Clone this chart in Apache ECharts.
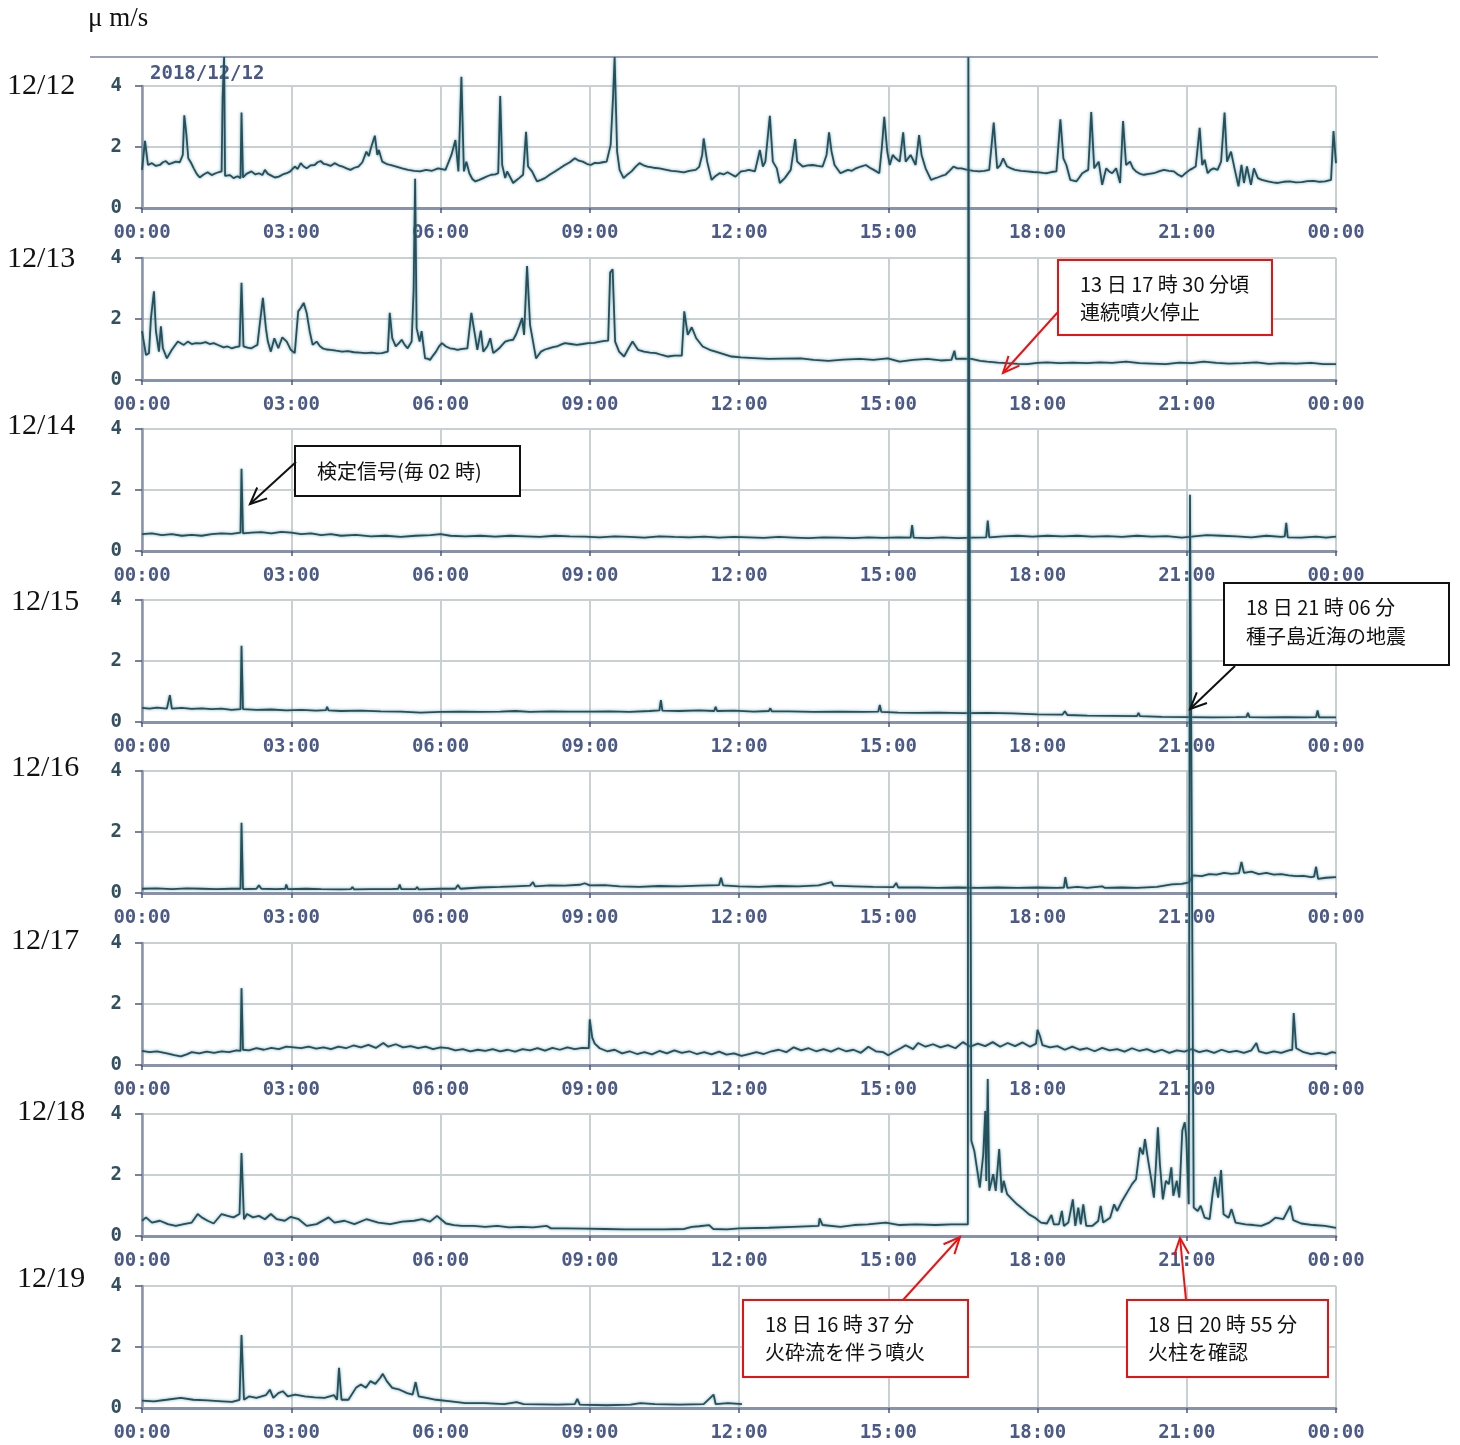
<!DOCTYPE html>
<html><head><meta charset="utf-8">
<script src="https://cdn.jsdelivr.net/npm/echarts@6/dist/echarts.min.js"></script>
<style>html,body{margin:0;padding:0;background:#fff}#c{width:1460px;height:1445px}</style>
</head><body><div id="c"></div>
<script>
const dayLabels = ['12/12','12/13','12/14','12/15','12/16','12/17','12/18','12/19'];
const xTickLabels = ['00:00','03:00','06:00','09:00','12:00','15:00','18:00','21:00','00:00'];
const yTickLabels = ['0','2','4'];
const unitLabel = 'μ m/s';
const dateTitle = '2018/12/12';

const d1212 = [[0,1.25],[0.06,2.2],[0.12,1.41],[0.2,1.47],[0.28,1.38],[0.36,1.41],[0.42,1.5],[0.48,1.54],[0.54,1.44],[0.6,1.47],[0.68,1.52],[0.76,1.5],[0.82,1.74],[0.85,3.04],[0.89,2.45],[0.93,1.63],[0.98,1.5],[1.04,1.3],[1.1,1.12],[1.16,1.0],[1.24,1.1],[1.32,1.17],[1.4,1.08],[1.48,1.14],[1.55,1.18],[1.6,1.2],[1.62,3.6],[1.65,4.95],[1.67,1.05],[1.7,1.03],[1.77,1.08],[1.84,0.98],[1.92,1.04],[1.98,0.98],[2.0,3.13],[2.03,1.0],[2.1,1.12],[2.2,1.2],[2.28,1.1],[2.35,1.14],[2.42,1.08],[2.47,1.25],[2.53,1.12],[2.59,1.07],[2.67,1.0],[2.75,1.03],[2.83,1.1],[2.91,1.14],[2.98,1.2],[3.07,1.36],[3.13,1.28],[3.19,1.47],[3.25,1.36],[3.31,1.3],[3.39,1.4],[3.47,1.41],[3.53,1.5],[3.59,1.54],[3.65,1.45],[3.71,1.43],[3.79,1.38],[3.87,1.47],[3.95,1.4],[4.03,1.36],[4.11,1.3],[4.19,1.25],[4.27,1.32],[4.35,1.36],[4.43,1.5],[4.51,1.85],[4.56,1.7],[4.6,1.96],[4.68,2.37],[4.73,1.74],[4.76,1.9],[4.83,1.52],[4.91,1.45],[4.99,1.41],[5.11,1.36],[5.23,1.3],[5.35,1.25],[5.47,1.22],[5.59,1.2],[5.71,1.25],[5.83,1.22],[5.95,1.3],[6.1,1.25],[6.22,1.74],[6.3,2.23],[6.36,1.2],[6.42,4.3],[6.47,1.2],[6.52,1.52],[6.58,1.14],[6.64,0.95],[6.7,0.87],[6.78,0.92],[6.86,0.98],[6.94,1.04],[7.02,1.09],[7.1,1.1],[7.16,1.14],[7.2,3.67],[7.24,1.41],[7.3,0.98],[7.34,1.2],[7.38,1.25],[7.42,0.95],[7.46,0.82],[7.52,0.9],[7.58,0.98],[7.66,1.09],[7.72,2.5],[7.76,1.36],[7.84,1.2],[7.9,1.0],[7.94,0.87],[8.02,0.92],[8.1,0.98],[8.2,1.1],[8.3,1.2],[8.4,1.3],[8.5,1.41],[8.6,1.5],[8.7,1.63],[8.78,1.55],[8.86,1.52],[8.94,1.45],[9.02,1.41],[9.1,1.48],[9.18,1.47],[9.26,1.5],[9.34,1.52],[9.42,2.07],[9.47,3.7],[9.5,4.95],[9.55,1.85],[9.6,1.25],[9.68,0.98],[9.76,1.1],[9.84,1.2],[9.92,1.35],[10.0,1.47],[10.08,1.4],[10.16,1.36],[10.28,1.32],[10.4,1.3],[10.52,1.26],[10.64,1.22],[10.76,1.2],[10.89,1.17],[11.0,1.22],[11.13,1.25],[11.2,1.35],[11.26,1.74],[11.29,2.28],[11.36,1.52],[11.45,0.92],[11.53,1.05],[11.61,1.14],[11.69,1.1],[11.77,1.17],[11.85,1.1],[11.93,1.03],[12.04,1.2],[12.12,1.22],[12.2,1.25],[12.32,1.2],[12.42,1.9],[12.48,1.36],[12.53,1.52],[12.62,3.02],[12.68,1.52],[12.76,1.3],[12.82,0.82],[12.92,0.98],[13.04,1.25],[13.13,2.26],[13.17,1.52],[13.28,1.36],[13.38,1.4],[13.48,1.41],[13.58,1.38],[13.68,1.36],[13.76,1.74],[13.81,2.48],[13.86,1.85],[13.92,1.41],[14.04,1.14],[14.12,1.2],[14.19,1.25],[14.27,1.22],[14.35,1.3],[14.45,1.36],[14.55,1.41],[14.63,1.32],[14.71,1.25],[14.82,1.14],[14.87,1.96],[14.92,2.99],[14.98,1.85],[15.03,1.41],[15.09,1.74],[15.15,1.63],[15.23,1.52],[15.3,2.48],[15.35,1.52],[15.45,1.74],[15.55,1.41],[15.62,2.39],[15.67,1.74],[15.75,1.3],[15.86,0.92],[15.92,0.96],[15.99,1.0],[16.07,1.05],[16.15,1.09],[16.23,1.22],[16.31,1.36],[16.39,1.3],[16.47,1.3],[16.59,1.25],[16.71,1.22],[16.83,1.2],[16.93,1.22],[17.03,1.25],[17.12,2.8],[17.19,1.3],[17.25,1.4],[17.31,1.63],[17.39,1.36],[17.47,1.3],[17.55,1.25],[17.67,1.22],[17.79,1.2],[17.91,1.18],[18.03,1.17],[18.11,1.15],[18.19,1.14],[18.28,1.18],[18.38,1.2],[18.46,2.91],[18.52,1.63],[18.58,1.41],[18.66,0.92],[18.72,0.9],[18.78,0.87],[18.84,1.0],[18.9,1.14],[18.96,1.2],[19.02,1.25],[19.08,3.15],[19.14,1.3],[19.23,1.52],[19.3,0.76],[19.38,1.3],[19.44,1.2],[19.5,1.14],[19.58,1.3],[19.66,0.82],[19.72,2.85],[19.78,1.41],[19.86,1.52],[19.92,1.3],[19.98,1.2],[20.06,1.12],[20.14,1.09],[20.24,1.12],[20.34,1.14],[20.44,1.2],[20.54,1.25],[20.64,1.22],[20.74,1.2],[20.82,1.1],[20.9,1.03],[20.98,1.15],[21.06,1.25],[21.12,1.3],[21.18,1.36],[21.26,2.63],[21.31,1.41],[21.36,1.58],[21.42,1.14],[21.48,1.25],[21.54,1.3],[21.62,1.25],[21.69,1.52],[21.76,3.13],[21.81,1.52],[21.89,1.85],[21.96,1.3],[22.04,0.71],[22.1,1.41],[22.15,0.82],[22.21,1.36],[22.29,0.76],[22.35,1.3],[22.43,0.98],[22.51,0.92],[22.63,0.87],[22.73,0.84],[22.83,0.82],[22.95,0.86],[23.07,0.87],[23.19,0.84],[23.31,0.85],[23.43,0.88],[23.55,0.89],[23.67,0.86],[23.78,0.87],[23.9,0.92],[23.95,2.52],[24.0,1.47]];

const d1213 = [[0,1.6],[0.04,1.54],[0.08,0.82],[0.14,0.88],[0.18,2.03],[0.24,2.91],[0.28,1.6],[0.34,0.93],[0.38,1.76],[0.42,1.04],[0.5,0.71],[0.6,0.99],[0.72,1.26],[0.84,1.15],[0.92,1.26],[1.0,1.18],[1.08,1.21],[1.18,1.2],[1.28,1.24],[1.36,1.18],[1.44,1.21],[1.54,1.14],[1.64,1.07],[1.72,1.1],[1.8,1.04],[1.88,1.08],[1.96,1.1],[2.0,3.19],[2.04,1.1],[2.12,1.06],[2.2,1.04],[2.26,1.1],[2.32,1.15],[2.37,1.87],[2.43,2.69],[2.49,1.7],[2.53,1.26],[2.59,0.93],[2.66,1.37],[2.74,1.04],[2.82,1.4],[2.91,1.26],[2.99,0.99],[3.07,0.88],[3.14,2.25],[3.19,2.36],[3.25,2.53],[3.31,2.2],[3.37,1.6],[3.43,1.15],[3.51,1.26],[3.57,1.12],[3.63,1.04],[3.71,1.0],[3.79,0.99],[3.9,0.96],[4.02,0.93],[4.14,0.95],[4.26,0.91],[4.38,0.9],[4.5,0.88],[4.62,0.9],[4.72,0.87],[4.82,0.88],[4.94,0.93],[4.98,2.2],[5.03,1.37],[5.1,1.1],[5.16,1.2],[5.22,1.32],[5.28,1.15],[5.34,1.04],[5.42,1.26],[5.46,2.97],[5.49,6.6],[5.52,1.7],[5.58,1.26],[5.62,1.6],[5.69,0.71],[5.74,0.7],[5.79,0.66],[5.85,0.8],[5.91,0.93],[5.97,1.1],[6.03,1.21],[6.11,1.1],[6.19,1.04],[6.27,1.02],[6.34,0.99],[6.44,1.02],[6.54,1.04],[6.62,2.2],[6.68,1.6],[6.74,0.99],[6.81,1.62],[6.86,0.93],[6.94,1.1],[7.0,1.37],[7.06,0.88],[7.12,0.96],[7.18,1.04],[7.24,1.15],[7.3,1.26],[7.38,1.3],[7.46,1.32],[7.52,1.5],[7.58,1.76],[7.64,2.03],[7.68,1.48],[7.74,3.74],[7.8,1.81],[7.86,1.26],[7.92,0.71],[7.97,0.82],[8.02,0.93],[8.1,1.0],[8.18,1.04],[8.26,1.08],[8.34,1.1],[8.42,1.16],[8.5,1.21],[8.62,1.18],[8.74,1.15],[8.86,1.18],[8.97,1.21],[9.09,1.22],[9.21,1.26],[9.3,1.28],[9.37,1.29],[9.41,3.52],[9.46,3.63],[9.51,1.26],[9.59,0.93],[9.69,0.77],[9.78,1.04],[9.86,1.26],[9.97,0.99],[10.09,0.93],[10.21,0.9],[10.33,0.88],[10.45,0.82],[10.57,0.77],[10.7,0.8],[10.85,0.8],[10.9,2.25],[10.97,1.48],[11.05,1.73],[11.14,1.37],[11.27,1.1],[11.41,0.99],[11.53,0.93],[11.69,0.85],[11.85,0.77],[12.04,0.74],[12.3,0.72],[12.6,0.69],[12.9,0.7],[13.24,0.71],[13.5,0.66],[13.8,0.63],[14.1,0.67],[14.43,0.69],[14.7,0.66],[14.99,0.71],[15.23,0.6],[15.5,0.66],[15.79,0.69],[16.05,0.64],[16.27,0.66],[16.31,0.68],[16.33,0.96],[16.36,0.69],[16.5,0.7],[16.67,0.69],[16.85,0.63],[16.99,0.6],[17.2,0.57],[17.39,0.55],[17.6,0.53],[17.79,0.52],[18.0,0.56],[18.19,0.58],[18.45,0.55],[18.7,0.57],[18.99,0.55],[19.25,0.58],[19.5,0.56],[19.78,0.6],[20.05,0.55],[20.3,0.54],[20.58,0.52],[20.85,0.57],[21.1,0.55],[21.34,0.6],[21.6,0.56],[21.85,0.54],[22.13,0.55],[22.4,0.58],[22.65,0.53],[22.92,0.55],[23.2,0.54],[23.5,0.56],[23.75,0.52],[24.0,0.52]];

const d1214 = [[0,0.55],[0.2,0.58],[0.4,0.52],[0.6,0.55],[0.8,0.5],[1.0,0.53],[1.2,0.5],[1.4,0.55],[1.6,0.58],[1.8,0.56],[1.98,0.6],[2.0,2.7],[2.03,0.58],[2.2,0.6],[2.4,0.62],[2.6,0.58],[2.8,0.63],[3.0,0.6],[3.2,0.55],[3.4,0.58],[3.6,0.52],[3.8,0.55],[4.0,0.5],[4.3,0.53],[4.6,0.48],[4.9,0.5],[5.2,0.46],[5.5,0.5],[5.8,0.52],[6.0,0.55],[6.2,0.5],[6.5,0.48],[6.8,0.5],[7.1,0.47],[7.4,0.5],[7.7,0.48],[8.0,0.46],[8.3,0.5],[8.6,0.48],[8.9,0.47],[9.2,0.45],[9.5,0.48],[9.8,0.46],[10.1,0.44],[10.4,0.48],[10.7,0.46],[11.0,0.45],[11.3,0.47],[11.6,0.44],[11.9,0.46],[12.2,0.45],[12.5,0.43],[12.8,0.46],[13.1,0.44],[13.4,0.42],[13.7,0.45],[14.0,0.44],[14.3,0.42],[14.6,0.45],[14.9,0.43],[15.2,0.45],[15.45,0.44],[15.48,0.85],[15.51,0.44],[15.8,0.42],[16.1,0.45],[16.4,0.42],[16.7,0.44],[16.97,0.45],[17.0,1.0],[17.03,0.45],[17.3,0.48],[17.6,0.5],[17.9,0.47],[18.2,0.5],[18.5,0.48],[18.8,0.5],[19.1,0.47],[19.4,0.49],[19.7,0.46],[20.0,0.5],[20.3,0.47],[20.6,0.49],[20.9,0.44],[21.1,0.47],[21.4,0.52],[21.7,0.5],[22.0,0.48],[22.3,0.45],[22.6,0.5],[22.9,0.46],[22.97,0.48],[23.0,0.92],[23.03,0.45],[23.3,0.44],[23.6,0.47],[23.8,0.44],[24,0.47]];

const d1215 = [[0,0.46],[0.15,0.44],[0.3,0.47],[0.5,0.44],[0.56,0.88],[0.6,0.44],[0.8,0.46],[1.0,0.43],[1.2,0.45],[1.4,0.42],[1.6,0.44],[1.8,0.4],[1.98,0.42],[2.0,2.5],[2.03,0.42],[2.3,0.4],[2.6,0.41],[2.9,0.38],[3.2,0.4],[3.5,0.37],[3.7,0.39],[3.72,0.5],[3.75,0.38],[4.0,0.36],[4.4,0.37],[4.8,0.35],[5.2,0.34],[5.6,0.31],[6.0,0.33],[6.4,0.34],[6.8,0.33],[7.2,0.34],[7.5,0.36],[7.8,0.33],[8.2,0.35],[8.6,0.34],[9.0,0.34],[9.4,0.35],[9.8,0.33],[10.2,0.36],[10.4,0.38],[10.43,0.72],[10.46,0.37],[10.8,0.36],[11.2,0.38],[11.5,0.36],[11.53,0.5],[11.56,0.36],[11.9,0.37],[12.3,0.34],[12.6,0.36],[12.63,0.45],[12.66,0.35],[13.0,0.35],[13.5,0.33],[14.0,0.34],[14.5,0.33],[14.8,0.34],[14.83,0.56],[14.86,0.33],[15.2,0.31],[15.6,0.3],[16.0,0.31],[16.5,0.29],[17.0,0.3],[17.5,0.28],[18.0,0.25],[18.5,0.24],[18.55,0.35],[18.6,0.23],[19.0,0.21],[19.5,0.2],[20.0,0.19],[20.03,0.3],[20.06,0.19],[20.5,0.17],[21.0,0.16],[21.5,0.15],[22.0,0.16],[22.2,0.17],[22.23,0.3],[22.26,0.16],[22.6,0.15],[23.0,0.16],[23.4,0.15],[23.6,0.16],[23.63,0.38],[23.66,0.15],[24,0.15]];

const d1216 = [[0,0.14],[0.3,0.15],[0.6,0.13],[0.9,0.15],[1.2,0.14],[1.5,0.13],[1.8,0.14],[1.98,0.14],[2.0,2.3],[2.03,0.13],[2.3,0.14],[2.35,0.25],[2.4,0.14],[2.7,0.13],[2.88,0.14],[2.9,0.28],[2.93,0.13],[3.3,0.14],[3.6,0.13],[4.0,0.12],[4.2,0.13],[4.23,0.2],[4.26,0.12],[4.6,0.13],[5.0,0.13],[5.15,0.14],[5.18,0.28],[5.21,0.13],[5.5,0.13],[5.53,0.2],[5.56,0.12],[6.0,0.14],[6.3,0.14],[6.35,0.26],[6.4,0.14],[6.8,0.18],[7.2,0.2],[7.5,0.22],[7.8,0.24],[7.86,0.36],[7.9,0.22],[8.2,0.25],[8.5,0.24],[8.8,0.27],[8.9,0.32],[9.0,0.25],[9.3,0.26],[9.6,0.22],[10.0,0.2],[10.4,0.23],[10.8,0.22],[11.2,0.24],[11.6,0.26],[11.64,0.5],[11.68,0.25],[12.0,0.22],[12.4,0.2],[12.8,0.23],[13.2,0.22],[13.6,0.25],[13.86,0.36],[13.9,0.24],[14.3,0.22],[14.7,0.2],[15.1,0.19],[15.16,0.33],[15.2,0.18],[15.6,0.18],[16.0,0.17],[16.4,0.18],[16.8,0.17],[17.2,0.18],[17.6,0.17],[18.0,0.18],[18.4,0.17],[18.53,0.18],[18.56,0.52],[18.6,0.17],[18.8,0.2],[19.0,0.17],[19.3,0.22],[19.35,0.17],[19.7,0.18],[20.0,0.17],[20.4,0.2],[20.7,0.28],[20.9,0.3],[21.05,0.35],[21.12,0.58],[21.3,0.55],[21.45,0.62],[21.6,0.6],[21.75,0.66],[21.9,0.63],[22.05,0.65],[22.1,1.02],[22.15,0.66],[22.3,0.7],[22.45,0.62],[22.6,0.66],[22.75,0.6],[22.9,0.62],[23.05,0.58],[23.2,0.55],[23.35,0.56],[23.5,0.52],[23.56,0.54],[23.6,0.86],[23.64,0.46],[23.8,0.5],[24,0.52]];

const d1217 = [[0,0.46],[0.15,0.42],[0.3,0.45],[0.5,0.38],[0.65,0.32],[0.78,0.28],[0.9,0.35],[1.0,0.42],[1.15,0.38],[1.3,0.44],[1.45,0.4],[1.6,0.45],[1.75,0.42],[1.9,0.48],[1.98,0.46],[2.0,2.52],[2.03,0.5],[2.15,0.48],[2.3,0.55],[2.45,0.5],[2.6,0.56],[2.75,0.52],[2.9,0.6],[3.05,0.58],[3.2,0.55],[3.35,0.6],[3.5,0.54],[3.65,0.58],[3.8,0.52],[3.95,0.6],[4.1,0.55],[4.25,0.64],[4.4,0.58],[4.55,0.66],[4.7,0.56],[4.85,0.72],[4.95,0.6],[5.1,0.68],[5.25,0.58],[5.4,0.62],[5.55,0.55],[5.7,0.6],[5.85,0.52],[6.0,0.58],[6.15,0.55],[6.3,0.48],[6.45,0.52],[6.6,0.45],[6.75,0.5],[6.9,0.46],[7.05,0.52],[7.2,0.45],[7.35,0.5],[7.5,0.44],[7.65,0.52],[7.8,0.48],[7.95,0.55],[8.1,0.47],[8.25,0.56],[8.4,0.5],[8.55,0.58],[8.7,0.52],[8.85,0.56],[8.98,0.55],[9.0,1.5],[9.05,0.9],[9.1,0.7],[9.2,0.55],[9.35,0.45],[9.5,0.5],[9.65,0.38],[9.8,0.45],[9.95,0.36],[10.1,0.42],[10.25,0.35],[10.4,0.46],[10.55,0.38],[10.7,0.48],[10.85,0.4],[11.0,0.45],[11.15,0.36],[11.3,0.42],[11.45,0.35],[11.6,0.44],[11.75,0.34],[11.9,0.38],[12.05,0.3],[12.2,0.36],[12.35,0.42],[12.5,0.36],[12.65,0.45],[12.8,0.5],[12.95,0.42],[13.1,0.58],[13.25,0.48],[13.4,0.55],[13.55,0.45],[13.7,0.52],[13.85,0.44],[14.0,0.55],[14.15,0.45],[14.3,0.5],[14.45,0.4],[14.6,0.6],[14.75,0.45],[14.9,0.42],[15.0,0.32],[15.1,0.42],[15.25,0.55],[15.35,0.65],[15.5,0.52],[15.6,0.72],[15.75,0.6],[15.9,0.68],[16.05,0.58],[16.2,0.65],[16.35,0.55],[16.5,0.75],[16.65,0.6],[16.8,0.7],[16.95,0.62],[17.1,0.75],[17.25,0.6],[17.4,0.72],[17.55,0.62],[17.7,0.74],[17.85,0.6],[17.97,0.7],[18.0,1.15],[18.05,0.95],[18.1,0.65],[18.25,0.58],[18.4,0.62],[18.55,0.5],[18.7,0.6],[18.85,0.5],[19.0,0.55],[19.15,0.45],[19.3,0.56],[19.45,0.48],[19.6,0.52],[19.75,0.44],[19.9,0.55],[20.05,0.46],[20.2,0.52],[20.35,0.42],[20.5,0.5],[20.65,0.4],[20.8,0.48],[20.95,0.44],[21.1,0.52],[21.25,0.42],[21.4,0.48],[21.55,0.4],[21.7,0.5],[21.85,0.42],[22.0,0.46],[22.15,0.4],[22.3,0.48],[22.4,0.72],[22.45,0.45],[22.6,0.38],[22.75,0.45],[22.9,0.4],[23.05,0.48],[23.12,0.5],[23.15,1.7],[23.2,0.55],[23.35,0.42],[23.5,0.36],[23.65,0.4],[23.8,0.35],[23.92,0.42],[24,0.4]];

const d1218 = [[0,0.5],[0.08,0.61],[0.2,0.44],[0.36,0.5],[0.52,0.39],[0.68,0.33],[0.84,0.39],[1.0,0.44],[1.12,0.72],[1.2,0.61],[1.32,0.5],[1.44,0.41],[1.6,0.72],[1.72,0.66],[1.84,0.61],[1.96,0.72],[2.0,2.72],[2.05,0.55],[2.11,0.72],[2.23,0.61],[2.35,0.66],[2.47,0.55],[2.59,0.72],[2.71,0.55],[2.87,0.5],[2.99,0.63],[3.15,0.55],[3.31,0.33],[3.51,0.39],[3.75,0.61],[3.87,0.44],[4.07,0.5],[4.27,0.39],[4.51,0.55],[4.75,0.44],[4.99,0.39],[5.23,0.47],[5.47,0.5],[5.63,0.55],[5.79,0.47],[5.93,0.66],[6.01,0.55],[6.11,0.41],[6.27,0.36],[6.43,0.33],[6.66,0.33],[6.9,0.3],[7.14,0.33],[7.38,0.28],[7.62,0.3],[7.86,0.28],[8.14,0.33],[8.22,0.25],[8.5,0.25],[8.9,0.24],[9.3,0.23],[9.7,0.22],[10.1,0.22],[10.5,0.22],[10.9,0.23],[11.05,0.3],[11.2,0.32],[11.4,0.36],[11.48,0.23],[11.76,0.22],[12.0,0.25],[12.6,0.27],[13.08,0.3],[13.6,0.33],[13.62,0.58],[13.68,0.36],[14.04,0.3],[14.31,0.36],[14.59,0.38],[14.95,0.44],[15.23,0.36],[15.55,0.38],[15.95,0.36],[16.27,0.38],[16.6,0.38],[16.61,38.65],[16.64,38.65],[16.67,3.12],[16.73,2.79],[16.79,2.14],[16.84,1.59],[16.91,2.68],[16.95,4.1],[16.97,1.8],[17.0,5.15],[17.03,1.48],[17.11,2.03],[17.16,1.48],[17.23,2.85],[17.28,1.42],[17.32,1.81],[17.39,1.37],[17.49,1.2],[17.59,1.04],[17.71,0.88],[17.83,0.71],[17.95,0.6],[18.07,0.44],[18.19,0.41],[18.28,0.69],[18.33,0.38],[18.43,0.38],[18.49,0.82],[18.53,0.33],[18.62,0.44],[18.71,1.2],[18.76,0.33],[18.82,0.93],[18.87,0.38],[18.92,1.04],[18.98,0.33],[19.1,0.33],[19.22,0.49],[19.27,0.99],[19.32,0.44],[19.46,0.6],[19.54,1.04],[19.6,0.82],[19.7,1.15],[19.82,1.48],[19.9,1.7],[19.98,1.86],[20.06,2.9],[20.12,2.68],[20.16,3.18],[20.22,2.52],[20.28,1.92],[20.34,1.26],[20.38,2.3],[20.42,3.56],[20.46,2.36],[20.52,1.2],[20.58,1.81],[20.64,1.7],[20.69,2.25],[20.73,1.32],[20.8,1.81],[20.85,1.26],[20.91,3.45],[20.96,3.73],[20.99,3.23],[21.04,1.04],[21.065,24.3],[21.09,24.3],[21.14,0.93],[21.22,0.82],[21.28,0.99],[21.36,0.6],[21.46,0.55],[21.52,1.37],[21.57,1.94],[21.63,1.26],[21.69,2.16],[21.74,0.71],[21.84,0.6],[21.9,0.88],[21.98,0.44],[22.18,0.38],[22.34,0.36],[22.5,0.33],[22.66,0.44],[22.78,0.6],[22.94,0.55],[23.08,0.99],[23.14,0.52],[23.3,0.41],[23.54,0.36],[23.78,0.33],[24.0,0.27]];

const d1219 = [[0,0.24],[0.24,0.22],[0.49,0.27],[0.78,0.33],[1.03,0.27],[1.32,0.25],[1.61,0.22],[1.81,0.2],[1.96,0.27],[2.0,2.39],[2.05,0.27],[2.15,0.38],[2.3,0.33],[2.49,0.42],[2.57,0.6],[2.64,0.33],[2.74,0.49],[2.83,0.55],[2.93,0.38],[3.08,0.44],[3.27,0.38],[3.47,0.35],[3.67,0.33],[3.86,0.42],[3.92,0.27],[3.96,1.32],[4.01,0.27],[4.15,0.27],[4.3,0.66],[4.4,0.77],[4.5,0.66],[4.59,0.88],[4.69,0.79],[4.79,0.99],[4.84,1.12],[4.92,0.88],[5.03,0.66],[5.18,0.6],[5.33,0.49],[5.44,0.44],[5.5,0.85],[5.56,0.38],[5.72,0.33],[5.91,0.27],[6.21,0.22],[6.5,0.16],[6.89,0.16],[7.28,0.13],[7.53,0.19],[7.67,0.13],[8.36,0.11],[8.7,0.13],[8.75,0.3],[8.8,0.11],[9.34,0.09],[9.82,0.11],[10.02,0.16],[10.31,0.13],[10.8,0.11],[11.29,0.13],[11.49,0.44],[11.53,0.13],[11.78,0.16],[12.06,0.13]];

const seriesData = [d1212,d1213,d1214,d1215,d1216,d1217,d1218,d1219];

// layout
const gridTops = [86,258,429,600,771,943,1114,1286];
const dayLabelPos = [[7,86],[7,259],[7,426],[11,602],[11,768],[11,941],[17,1112],[17,1279]];
const GL = 142, GW = 1194, GH = 122;

const chart = echarts.init(document.getElementById('c'), null, {renderer:'canvas'});
const grids = [], xAxes = [], yAxes = [], series = [];
const monoBold = {fontFamily:'DejaVu Sans Mono', fontWeight:'bold', fontSize:19};
gridTops.forEach((t,i)=>{
  grids.push({left:GL, top:t, width:GW, height:GH, containLabel:false});
  xAxes.push({gridIndex:i, type:'value', min:0, max:24, interval:3,
    axisLine:{onZero:false, lineStyle:{color:'#8892ad', width:3}},
    axisTick:{show:true, length:5, lineStyle:{color:'#4d5880', width:1.5}},
    axisLabel:Object.assign({margin:16, color:'#4b5a86', formatter:v=>xTickLabels[Math.round(v/3)], showMinLabel:true, showMaxLabel:true}, monoBold),
    splitLine:{show:true, lineStyle:{color:'#c9d0d3', width:2}}});
  yAxes.push({gridIndex:i, type:'value', min:0, max:4, interval:2,
    axisLine:{show:true, onZero:false, lineStyle:{color:'#8892ad', width:2.5}},
    axisTick:{show:true, length:7, lineStyle:{color:'#4d5880', width:1.5}},
    axisLabel:Object.assign({margin:20, color:'#33505e', formatter:v=>yTickLabels[Math.round(v/2)]}, monoBold),
    splitLine:{show:true, lineStyle:{color:'#c9d0d3', width:2}}});
  series.push({type:'line', xAxisIndex:i, yAxisIndex:i, data:seriesData[i], showSymbol:false, symbol:'none',
    clip:false, sampling:null, animation:false, z:3,
    lineStyle:{color:'#22505d', width:1.8, shadowColor:'rgba(95,145,155,0.85)', shadowBlur:3}});
});

const g = [];
g.push({type:'line', shape:{x1:90,y1:57,x2:1378,y2:57}, style:{stroke:'#34457a', lineWidth:1.2}, z:1});
g.push({type:'text', x:88, y:19, style:{text:unitLabel, font:'27px "Liberation Serif"', fill:'#111', verticalAlign:'middle'}});
g.push({type:'text', x:150, y:74, style:{text:dateTitle, font:'bold 19px "DejaVu Sans Mono"', fill:'#4a5888', verticalAlign:'middle'}, z:1});
dayLabels.forEach((s,i)=>{
  g.push({type:'text', x:dayLabelPos[i][0], y:dayLabelPos[i][1], style:{text:s, font:'30px "Liberation Serif"', fill:'#111', verticalAlign:'middle'}});
});

function arrow(x1,y1,x2,y2,color){
  const ang = Math.atan2(y2-y1, x2-x1), L = 18, a = 0.42;
  g.push({type:'line', z:100, shape:{x1,y1,x2,y2}, style:{stroke:color, lineWidth:2}});
  g.push({type:'polyline', z:100, shape:{points:[[x2-L*Math.cos(ang-a), y2-L*Math.sin(ang-a)],[x2,y2],[x2-L*Math.cos(ang+a), y2-L*Math.sin(ang+a)]]}, style:{stroke:color, lineWidth:2, fill:null}});
}
function box(x,y,w,h,color,lines,tx,ty,lh){
  g.push({type:'rect', z:100, shape:{x,y,width:w,height:h}, style:{fill:'#fff', stroke:color, lineWidth:2}});
  lines.forEach((s,k)=>g.push({type:'text', z:101, x:tx, y:ty+k*lh, style:{text:s, font:'20px "Noto Sans CJK JP"', fill:'#111', verticalAlign:'middle'}}));
}
const RED = '#ee1111', BLK = '#111';
box(1058,260,214,75,RED,['13 日 17 時 30 分頃','連続噴火停止'],1080,284,28);
arrow(1058,312,1003,373,RED);
box(295,446,225,50,BLK,['検定信号(毎 02 時)'],317,471,28);
arrow(296,462,250,504,BLK);
box(1224,583,225,82,BLK,['18 日 21 時 06 分','種子島近海の地震'],1246,607,29);
arrow(1235,666,1190,709,BLK);
box(743,1300,225,77,RED,['18 日 16 時 37 分','火砕流を伴う噴火'],765,1324,28);
arrow(903,1300,960,1237,RED);
box(1127,1300,201,77,RED,['18 日 20 時 55 分','火柱を確認'],1148,1324,28);
arrow(1186,1300,1180,1238,RED);

chart.setOption({animation:false, backgroundColor:'#fff', grid:grids, xAxis:xAxes, yAxis:yAxes, series:series, graphic:{elements:g}});
</script></body></html>
